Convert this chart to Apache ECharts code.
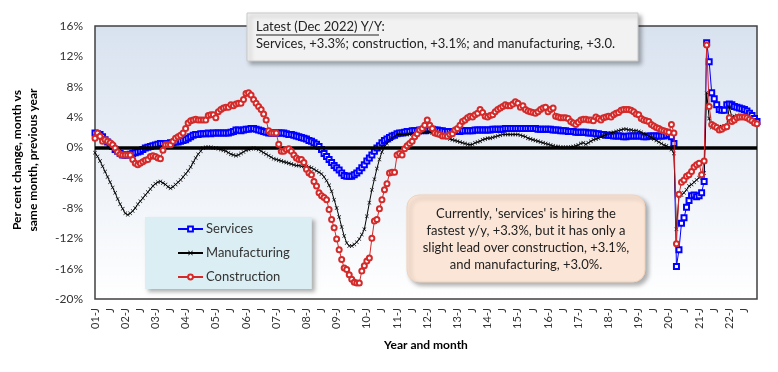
<!DOCTYPE html>
<html><head><meta charset="utf-8">
<script src="https://cdn.jsdelivr.net/npm/echarts@6/dist/echarts.min.js"></script>
<style>html,body{margin:0;padding:0;background:#fff}#c{width:778px;height:372px}</style>
</head><body><div id="c"></div>
<script>
const years = ['01','02','03','04','05','06','07','08','09','10','11','12','13','14','15','16','17','18','19','20','21','22'];
const monthLetters = ['J','F','M','A','M','J','J','A','S','O','N','D'];

const services = [
 1.9, 1.8, 1.7, 1.4, 1.0, 0.7, 0.4, 0.1, -0.3, -0.5, -0.8, -1.0,
 -1.0, -1.0, -0.9, -0.8, -0.7, -0.6, -0.5, -0.3, -0.1, 0.0, 0.1, 0.2,
 0.3, 0.4, 0.5, 0.5, 0.5, 0.5, 0.6, 0.6, 0.7, 0.7, 0.8, 0.9,
 1.0, 1.2, 1.4, 1.6, 1.7, 1.7, 1.8, 1.8, 1.8, 1.9, 1.8, 1.9,
 1.9, 1.9, 1.9, 1.9, 1.9, 1.9, 2.0, 2.1, 2.3, 2.3, 2.2, 2.3,
 2.4, 2.4, 2.5, 2.5, 2.4, 2.3, 2.2, 2.1, 2.0, 1.9, 1.9, 1.9,
 1.9, 1.9, 1.9, 1.9, 1.8, 1.7, 1.7, 1.6, 1.5, 1.4, 1.3, 1.2,
 1.1, 0.9, 0.8, 0.6, 0.4, 0.1, -0.3, -0.8, -1.2, -1.6, -2.0, -2.4,
 -2.7, -3.0, -3.4, -3.7, -3.8, -3.8, -3.8, -3.6, -3.4, -3.1, -2.7, -2.3,
 -1.8, -1.4, -1.0, -0.5, -0.1, 0.2, 0.6, 0.9, 1.1, 1.3, 1.5, 1.6,
 1.8, 1.9, 1.9, 2.0, 2.1, 2.1, 2.2, 2.2, 2.2, 2.3, 2.3, 2.2,
 2.3, 2.4, 2.4, 2.3, 2.3, 2.2, 2.2, 2.1, 2.1, 2.1, 2.1, 2.1,
 2.1, 2.1, 2.2, 2.2, 2.2, 2.2, 2.2, 2.3, 2.3, 2.3, 2.3, 2.3,
 2.3, 2.3, 2.4, 2.4, 2.4, 2.4, 2.4, 2.5, 2.5, 2.5, 2.5, 2.5,
 2.5, 2.5, 2.5, 2.5, 2.5, 2.5, 2.5, 2.5, 2.4, 2.4, 2.4, 2.4,
 2.4, 2.4, 2.3, 2.3, 2.3, 2.2, 2.2, 2.2, 2.1, 2.1, 2.1, 2.0,
 2.0, 2.0, 2.0, 2.0, 1.9, 1.9, 1.9, 1.8, 1.8, 1.7, 1.7, 1.6,
 1.6, 1.6, 1.5, 1.5, 1.5, 1.5, 1.4, 1.4, 1.5, 1.5, 1.5, 1.5,
 1.5, 1.5, 1.4, 1.4, 1.5, 1.5, 1.5, 1.5, 1.5, 1.5, 1.5, 1.6,
 1.7, 1.4, 0.5, -15.7, -13.5, -10.0, -9.3, -7.9, -7.0, -6.4, -6.3, -6.5,
 -6.4, -6.0, -4.5, 13.8, 11.3, 7.2, 6.4, 5.6, 5.0, 4.9, 4.9, 5.6,
 5.7, 5.6, 5.4, 5.3, 5.2, 5.1, 5.0, 4.8, 4.5, 4.2, 3.8, 3.4
];

const manufacturing = [
 -0.7, -1.2, -1.8, -2.5, -3.2, -3.9, -4.6, -5.3, -6.0, -6.8, -7.5, -8.1,
 -8.7, -8.9, -8.7, -8.4, -8.0, -7.5, -7.1, -6.7, -6.3, -5.9, -5.5, -5.1,
 -4.8, -4.6, -4.5, -4.7, -4.9, -5.2, -5.4, -5.2, -4.9, -4.6, -4.3, -3.9,
 -3.5, -3.1, -2.6, -2.0, -1.4, -0.9, -0.5, -0.1, 0.0, 0.0, 0.0, -0.1,
 -0.1, -0.2, -0.3, -0.4, -0.5, -0.7, -0.9, -1.0, -1.1, -1.0, -0.8, -0.6,
 -0.4, -0.3, -0.2, -0.1, -0.2, -0.3, -0.5, -0.7, -0.9, -1.1, -1.3, -1.5,
 -1.6, -1.7, -1.8, -1.9, -2.0, -2.1, -2.2, -2.3, -2.4, -2.4, -2.5, -2.5,
 -2.5, -2.6, -2.7, -2.9, -3.1, -3.3, -3.5, -3.9, -4.4, -5.0, -5.8, -6.9,
 -8.0, -9.2, -10.5, -11.7, -12.6, -13.0, -13.0, -12.8, -12.5, -12.1, -11.5, -10.8,
 -9.1, -7.3, -5.6, -4.2, -2.8, -1.6, -0.6, 0.1, 0.5, 0.9, 1.2, 1.5,
 1.7, 1.7, 1.7, 1.7, 1.7, 1.7, 1.8, 1.8, 1.9, 1.9, 2.0, 2.0,
 2.0, 2.0, 1.9, 1.9, 1.8, 1.7, 1.6, 1.4, 1.3, 1.1, 1.0, 0.9,
 0.8, 0.7, 0.6, 0.5, 0.4, 0.35, 0.4, 0.6, 0.7, 0.8, 1.0, 1.1,
 1.2, 1.2, 1.3, 1.4, 1.5, 1.6, 1.7, 1.7, 1.7, 1.7, 1.7, 1.7,
 1.7, 1.6, 1.5, 1.4, 1.2, 1.1, 1.0, 0.9, 0.8, 0.7, 0.6, 0.5,
 0.4, 0.3, 0.2, 0.1, 0.1, 0.0, 0.0, 0.0, 0.0, 0.05, 0.1, 0.2,
 0.3, 0.5, 0.6, 0.4, 0.6, 0.8, 1.0, 1.1, 1.2, 1.4, 1.5, 1.7,
 1.8, 1.9, 2.0, 2.1, 2.2, 2.3, 2.4, 2.4, 2.3, 2.3, 2.2, 2.2,
 2.1, 2.0, 1.8, 1.7, 1.5, 1.3, 1.1, 0.9, 0.7, 0.5, 0.3, 0.2,
 0.0, -0.3, -0.8, -10.8, -6.4, -6.3, -6.0, -5.6, -5.1, -4.9, -4.6, -4.3,
 -4.0, -3.7, -3.4, 7.2, 3.8, 2.6, 2.6, 2.7, 2.7, 2.7, 2.8, 2.9,
 5.3, 4.0, 4.1, 4.2, 4.1, 4.0, 4.0, 3.9, 3.7, 3.5, 3.3, 3.0
];

const construction = [
 1.2, 1.9, 1.45, 0.8, 1.0, 0.8, 0.6, 0.35, -0.1, -0.6, -0.9, -1.0,
 -1.0, -1.0, -1.0, -1.6, -2.1, -2.3, -2.1, -1.9, -1.7, -1.6, -1.2, -1.1,
 -1.2, -1.4, -1.5, -0.4, 0.35, 0.35, 0.35, 0.8, 1.2, 1.4, 1.6, 1.9,
 2.5, 3.2, 3.5, 3.6, 3.7, 3.6, 3.6, 3.6, 3.6, 4.2, 4.3, 4.3,
 3.9, 4.7, 5.0, 5.2, 5.3, 5.3, 5.6, 5.5, 5.7, 5.8, 5.8, 6.3,
 7.1, 7.2, 6.9, 6.3, 5.8, 5.4, 5.0, 4.4, 3.6, 2.2, 1.9, 1.9,
 1.9, 0.4, -0.5, -0.5, -0.3, -0.2, -0.5, -1.0, -1.4, -1.6, -1.6, -2.0,
 -2.9, -3.4, -3.6, -4.5, -5.1, -6.0, -6.4, -6.6, -6.9, -8.2, -9.5, -10.6,
 -12.1, -13.5, -14.8, -15.9, -16.1, -16.8, -17.4, -17.8, -17.9, -17.9, -16.3, -15.6,
 -15.0, -14.6, -12.0, -9.7, -9.5, -8.1, -6.9, -5.6, -4.8, -3.4, -3.3, -3.3,
 -1.0, -0.8, -1.0, -0.2, 0.2, 0.5, 0.8, 1.4, 1.8, 2.3, 2.5, 2.9,
 3.6, 2.9, 2.5, 1.9, 1.8, 1.7, 1.5, 1.5, 1.45, 1.7, 1.8, 2.3,
 2.5, 2.9, 3.4, 3.6, 3.9, 4.1, 4.0, 4.3, 4.5, 5.0, 4.6, 4.1,
 4.0, 4.2, 4.3, 4.7, 5.0, 5.2, 5.4, 5.6, 5.5, 5.5, 5.7, 6.0,
 5.8, 5.3, 5.5, 5.0, 4.8, 4.7, 4.6, 4.5, 4.7, 5.0, 5.2, 5.3,
 4.7, 5.0, 5.2, 4.1, 4.0, 3.9, 3.9, 3.9, 3.8, 3.4, 3.2, 3.0,
 3.3, 3.6, 3.7, 3.7, 3.6, 3.6, 3.5, 4.0, 3.8, 3.6, 3.9, 4.0,
 4.1, 4.0, 4.3, 4.5, 4.6, 4.9, 5.0, 5.0, 5.0, 4.9, 4.7, 4.4,
 4.3, 3.8, 3.6, 3.5, 3.4, 3.0, 2.8, 2.6, 2.5, 2.3, 2.2, 2.1,
 2.0, 3.0, 1.9, -12.7, -6.2, -4.6, -4.3, -3.8, -3.6, -3.2, -2.6, -2.3,
 -2.1, -3.6, -1.8, 13.5, 5.4, 3.0, 2.8, 2.6, 2.3, 2.4, 2.6, 2.7,
 3.9, 3.4, 3.6, 3.9, 4.0, 4.0, 4.0, 3.9, 3.7, 3.5, 3.2, 3.1
];

const categories = [];
years.forEach(y => monthLetters.forEach((m, i) => categories.push(y + '-' + m + (i + 1))));

const FONT = 'Lato, "Open Sans", sans-serif';
const chart = echarts.init(document.getElementById('c'), null, {renderer: 'canvas'});

const xMark = 'path://M0,1L1,0L5,4L9,0L10,1L6,5L10,9L9,10L5,6L1,10L0,9L4,5Z';

chart.setOption({
  animation: false,
  backgroundColor: '#ffffff',
  textStyle: {fontFamily: FONT},
  grid: {
    left: 95, right: 21, top: 26, bottom: 73,
    show: true,
    borderColor: '#404040', borderWidth: 1.5,
    backgroundColor: new echarts.graphic.LinearGradient(0, 0, 0, 1, [
      {offset: 0, color: '#d8e2ef'},
      {offset: 1, color: '#ffffff'}
    ])
  },
  legend: {
    data: ['Services', 'Manufacturing', 'Construction'],
    orient: 'vertical',
    left: 145, top: 217,
    padding: [5, 22, 5, 32],
    itemWidth: 25, itemHeight: 6, itemGap: 10,
    backgroundColor: '#daeef3',
    shadowBlur: 4, shadowOffsetX: 3, shadowOffsetY: 3, shadowColor: 'rgba(0,0,0,0.3)',
    textStyle: {fontFamily: FONT, fontSize: 13, color: '#333', lineHeight: 14, padding: [0, 0, 0, -2]}
  },
  xAxis: {
    type: 'category',
    data: categories,
    boundaryGap: false,
    axisLine: {show: false},
    axisTick: {show: false},
    splitLine: {show: false},
    axisLabel: {
      rotate: 90,
      interval: (i) => i % 6 === 0,
      formatter: (v, i) => (i % 12 === 0 ? years[Math.floor(i / 12)] + '-J' : 'J'),
      fontFamily: FONT, fontSize: 11, color: '#333', margin: 9
    },
    name: 'Year and month',
    nameLocation: 'middle',
    nameGap: 40,
    nameTextStyle: {fontFamily: FONT, fontSize: 12, fontWeight: 'bold', color: '#000'}
  },
  yAxis: {
    type: 'value',
    min: -20, max: 16, interval: 4,
    axisLine: {show: false},
    axisTick: {show: false},
    splitLine: {show: false},
    axisLabel: {formatter: '{value}%', fontFamily: FONT, fontSize: 12, color: '#333', margin: 12}
  },
  series: [
    {
      name: 'Services', type: 'line', data: services,
      symbol: 'emptyRect', symbolSize: 5, showAllSymbol: true,
      lineStyle: {color: '#0000ff', width: 1},
      itemStyle: {color: '#0000ff', borderColor: '#0000ff', borderWidth: 1},
      z: 3,
      markLine: {
        silent: true, symbol: 'none', label: {show: false},
        lineStyle: {color: '#000', width: 3.5, type: 'solid'},
        data: [{yAxis: 0}]
      }
    },
    {
      name: 'Manufacturing', type: 'line', data: manufacturing,
      symbol: xMark, symbolSize: 4, showAllSymbol: true,
      lineStyle: {color: '#000000', width: 1},
      itemStyle: {color: '#000000', borderWidth: 0},
      z: 4
    },
    {
      name: 'Construction', type: 'line', data: construction,
      symbol: 'emptyCircle', symbolSize: 5, showAllSymbol: true,
      lineStyle: {color: '#d42a2a', width: 1},
      itemStyle: {color: '#d42a2a', borderColor: '#d42a2a', borderWidth: 1},
      z: 5
    }
  ],
  graphic: [
    {
      type: 'text', z: 10,
      x: 25, y: 160, rotation: Math.PI / 2,
      style: {
        text: 'Per cent change, month vs\nsame month, previous year',
        font: 'bold 12px ' + FONT, fill: '#000',
        align: 'center', verticalAlign: 'middle', lineHeight: 16
      }
    },
    {
      type: 'rect', z: 20,
      shape: {x: 247, y: 13, width: 391, height: 48},
      style: {fill: '#f2f2f2', stroke: '#c8c8c8', lineWidth: 1,
        shadowBlur: 4, shadowOffsetX: 3, shadowOffsetY: 3, shadowColor: 'rgba(0,0,0,0.3)'}
    },
    {
      type: 'text', z: 21, x: 256, y: 27,
      style: {text: 'Latest (Dec 2022) Y/Y:', font: '13px ' + FONT, fill: '#222', verticalAlign: 'middle'}
    },
    {
      type: 'line', z: 21,
      shape: {x1: 256, y1: 35, x2: 379, y2: 35},
      style: {stroke: '#222', lineWidth: 1}
    },
    {
      type: 'text', z: 21, x: 256, y: 44,
      style: {text: 'Services, +3.3%; construction, +3.1%; and manufacturing, +3.0.', font: '13px ' + FONT, fill: '#222', verticalAlign: 'middle'}
    },
    {
      type: 'rect', z: 20,
      shape: {x: 407, y: 195, width: 238, height: 87, r: 12},
      style: {fill: '#fbe5d6', stroke: '#f2d2bc', lineWidth: 1,
        shadowBlur: 4, shadowOffsetX: 3, shadowOffsetY: 3, shadowColor: 'rgba(0,0,0,0.3)'}
    },
    {
      type: 'text', z: 21, x: 526, y: 239,
      style: {
        text: "Currently, 'services' is hiring the\nfastest y/y, +3.3%, but it has only a\nslight lead over construction, +3.1%,\nand manufacturing, +3.0%.",
        font: '13px ' + FONT, fill: '#222', align: 'center', verticalAlign: 'middle', lineHeight: 17
      }
    }
  ]
});
</script>
</body></html>
